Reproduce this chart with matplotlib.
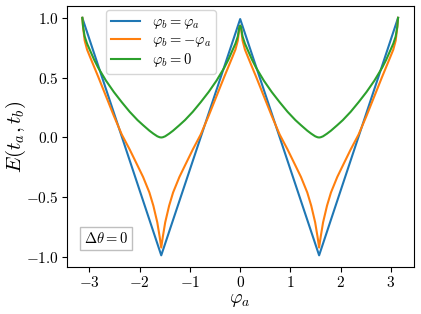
import numpy as np
import matplotlib
matplotlib.use("Agg")
import matplotlib.pyplot as plt

plt.rcParams['font.family'] = 'serif'
plt.rcParams['font.serif'] = ['cmr10', 'DejaVu Serif']
plt.rcParams['mathtext.fontset'] = 'cm'
plt.rcParams['axes.formatter.use_mathtext'] = True

# x positions in units of pi
phi_blue = [-1.0, -0.5, 0.0, 0.5, 1.0]
E_blue = [1.0, -0.985, 0.99, -0.985, 1.0]

phi_curve = [
    -1.0, -0.995, -0.985, -0.97, -0.95, -0.925, -0.9, -0.85, -0.8, -0.75, -0.7, -0.65, -0.615, -0.575, -0.55, -0.525, -0.51, -0.5,
    -0.49, -0.475, -0.45, -0.425, -0.385, -0.35, -0.3, -0.25, -0.2, -0.15, -0.1, -0.075, -0.05, -0.03, -0.015, -0.005, 0.0,
    0.005, 0.015, 0.03, 0.05, 0.075, 0.1, 0.15, 0.2, 0.25, 0.3, 0.35, 0.385, 0.425, 0.45, 0.475, 0.49, 0.5,
    0.51, 0.525, 0.55, 0.575, 0.615, 0.65, 0.7, 0.75, 0.8, 0.85, 0.9, 0.925, 0.95, 0.97, 0.985, 0.995, 1.0,
]

E_orange = [
    1.0, 0.92, 0.81, 0.735, 0.67, 0.59, 0.51, 0.345, 0.18, 0.025, -0.10, -0.235, -0.33, -0.46, -0.57, -0.71, -0.83, -0.92,
    -0.83, -0.71, -0.57, -0.46, -0.33, -0.235, -0.10, 0.025, 0.18, 0.345, 0.51, 0.59, 0.67, 0.735, 0.81, 0.92, 0.935,
    0.92, 0.81, 0.735, 0.67, 0.59, 0.51, 0.345, 0.18, 0.025, -0.10, -0.235, -0.33, -0.46, -0.57, -0.71, -0.83, -0.92,
    -0.83, -0.71, -0.57, -0.46, -0.33, -0.235, -0.10, 0.025, 0.18, 0.345, 0.51, 0.59, 0.67, 0.735, 0.81, 0.92, 1.0,
]

E_green = [
    1.0, 0.925, 0.845, 0.785, 0.725, 0.65, 0.585, 0.475, 0.38, 0.295, 0.215, 0.145, 0.103, 0.057, 0.032, 0.010, 0.002, 0.0,
    0.002, 0.010, 0.032, 0.057, 0.103, 0.145, 0.215, 0.295, 0.38, 0.475, 0.585, 0.65, 0.725, 0.785, 0.845, 0.925, 0.935,
    0.925, 0.845, 0.785, 0.725, 0.65, 0.585, 0.475, 0.38, 0.295, 0.215, 0.145, 0.103, 0.057, 0.032, 0.010, 0.002, 0.0,
    0.002, 0.010, 0.032, 0.057, 0.103, 0.145, 0.215, 0.295, 0.38, 0.475, 0.585, 0.65, 0.725, 0.785, 0.845, 0.925, 1.0,
]

labels = [r'$\varphi_b = \varphi_a$', r'$\varphi_b = -\varphi_a$', r'$\varphi_b = 0$']

fig = plt.figure(figsize=(4.21, 3.14), dpi=100)
ax = fig.add_axes([0.158, 0.149, 0.825, 0.832])

ax.plot(np.array(phi_blue) * np.pi, E_blue, color='#1f77b4', lw=1.5, label=labels[0])
ax.plot(np.array(phi_curve) * np.pi, E_orange, color='#ff7f0e', lw=1.5, label=labels[1])
ax.plot(np.array(phi_curve) * np.pi, E_green, color='#2ca02c', lw=1.5, label=labels[2])

ax.set_xticks([-3, -2, -1, 0, 1, 2, 3])
ax.set_yticks([-1.0, -0.5, 0.0, 0.5, 1.0])
ax.tick_params(labelsize=11, pad=2)
ax.set_xlabel(r'$\varphi_a$', fontsize=14, labelpad=1)
ax.set_ylabel(r'$E(t_a, t_b)$', fontsize=15)
ax.yaxis.set_label_coords(-0.112, 0.5)

ax.legend(loc='upper left', bbox_to_anchor=(0.113, 0.985), borderaxespad=0,
          fontsize=10.5, labelspacing=0.15, borderpad=0.35)
ax.text(0.05, 0.11, r'$\Delta\theta = 0$', transform=ax.transAxes, fontsize=10.5,
        ha='left', va='center',
        bbox=dict(boxstyle='square,pad=0.3', fc='white', ec='0.75'))

fig.savefig('out.png', dpi=100)
